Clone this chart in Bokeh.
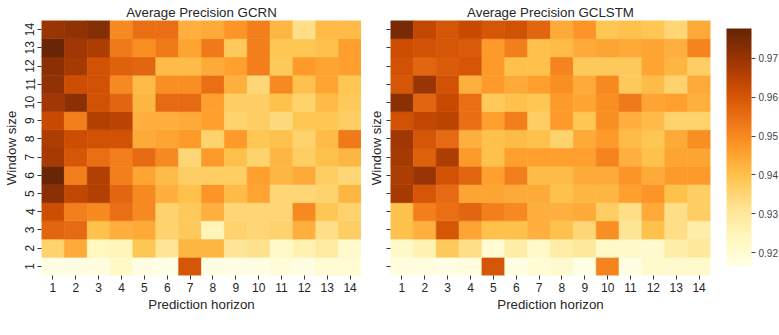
import numpy as np
from bokeh.plotting import figure
from bokeh.layouts import row
from bokeh.models import (ColumnDataSource, LinearColorMapper, ColorBar, FixedTicker,
                          PrintfTickFormatter)
from bokeh.embed import file_html
from bokeh.resources import INLINE

horizons = list(range(1, 15))
windows = list(range(1, 15))
cbar_ticks = [0.92, 0.93, 0.94, 0.95, 0.96, 0.97]

# rows: window size 1..14, columns: prediction horizon 1..14
gcrn_ap = [
    [0.917, 0.917, 0.918, 0.922, 0.917, 0.9165, 0.960, 0.917, 0.917, 0.917, 0.919, 0.917, 0.920, 0.920],
    [0.936, 0.944, 0.924, 0.925, 0.939, 0.931, 0.942, 0.942, 0.931, 0.932, 0.922, 0.926, 0.929, 0.921],
    [0.957, 0.956, 0.940, 0.943, 0.944, 0.936, 0.938, 0.925, 0.936, 0.935, 0.936, 0.943, 0.933, 0.937],
    [0.962, 0.952, 0.950, 0.955, 0.950, 0.936, 0.938, 0.943, 0.935, 0.935, 0.935, 0.950, 0.939, 0.936],
    [0.972, 0.964, 0.966, 0.957, 0.950, 0.943, 0.940, 0.948, 0.941, 0.945, 0.935, 0.935, 0.936, 0.942],
    [0.977, 0.952, 0.966, 0.952, 0.945, 0.941, 0.937, 0.937, 0.937, 0.946, 0.942, 0.944, 0.937, 0.935],
    [0.968, 0.960, 0.955, 0.952, 0.956, 0.950, 0.935, 0.947, 0.940, 0.936, 0.942, 0.937, 0.940, 0.942],
    [0.967, 0.962, 0.961, 0.961, 0.944, 0.945, 0.947, 0.936, 0.947, 0.939, 0.940, 0.936, 0.941, 0.953],
    [0.963, 0.952, 0.966, 0.965, 0.943, 0.943, 0.944, 0.946, 0.936, 0.937, 0.934, 0.939, 0.939, 0.937],
    [0.969, 0.972, 0.961, 0.957, 0.942, 0.956, 0.956, 0.946, 0.937, 0.937, 0.940, 0.936, 0.941, 0.938],
    [0.971, 0.962, 0.961, 0.950, 0.941, 0.949, 0.949, 0.955, 0.943, 0.935, 0.950, 0.940, 0.945, 0.939],
    [0.972, 0.968, 0.961, 0.958, 0.957, 0.941, 0.941, 0.944, 0.946, 0.952, 0.938, 0.947, 0.945, 0.946],
    [0.977, 0.969, 0.967, 0.953, 0.949, 0.953, 0.945, 0.953, 0.938, 0.952, 0.939, 0.939, 0.940, 0.946],
    [0.970, 0.971, 0.973, 0.950, 0.955, 0.955, 0.943, 0.944, 0.948, 0.952, 0.942, 0.933, 0.941, 0.941],
]

gclstm_ap = [
    [0.918, 0.918, 0.917, 0.918, 0.960, 0.917, 0.920, 0.921, 0.9165, 0.951, 0.917, 0.921, 0.921, 0.921],
    [0.922, 0.926, 0.938, 0.933, 0.920, 0.928, 0.922, 0.928, 0.930, 0.922, 0.922, 0.921, 0.928, 0.930],
    [0.940, 0.943, 0.960, 0.945, 0.940, 0.940, 0.943, 0.940, 0.935, 0.949, 0.931, 0.940, 0.933, 0.928],
    [0.940, 0.952, 0.955, 0.957, 0.952, 0.950, 0.943, 0.943, 0.944, 0.937, 0.933, 0.944, 0.933, 0.937],
    [0.968, 0.960, 0.956, 0.945, 0.945, 0.944, 0.944, 0.940, 0.942, 0.942, 0.946, 0.948, 0.940, 0.937],
    [0.967, 0.970, 0.961, 0.957, 0.946, 0.952, 0.941, 0.941, 0.944, 0.944, 0.948, 0.944, 0.947, 0.947],
    [0.968, 0.958, 0.967, 0.947, 0.940, 0.946, 0.946, 0.946, 0.946, 0.951, 0.943, 0.940, 0.945, 0.945],
    [0.969, 0.960, 0.956, 0.943, 0.940, 0.941, 0.940, 0.936, 0.944, 0.947, 0.941, 0.939, 0.944, 0.949],
    [0.961, 0.964, 0.965, 0.955, 0.946, 0.952, 0.937, 0.947, 0.939, 0.949, 0.943, 0.941, 0.936, 0.936],
    [0.972, 0.957, 0.963, 0.955, 0.938, 0.940, 0.939, 0.947, 0.945, 0.949, 0.953, 0.945, 0.946, 0.943],
    [0.960, 0.970, 0.961, 0.943, 0.947, 0.944, 0.946, 0.949, 0.944, 0.950, 0.938, 0.941, 0.936, 0.944],
    [0.961, 0.957, 0.959, 0.960, 0.947, 0.940, 0.940, 0.951, 0.938, 0.938, 0.938, 0.945, 0.942, 0.937],
    [0.962, 0.961, 0.960, 0.959, 0.947, 0.952, 0.940, 0.941, 0.944, 0.945, 0.944, 0.945, 0.943, 0.951],
    [0.975, 0.964, 0.960, 0.963, 0.960, 0.961, 0.957, 0.944, 0.948, 0.939, 0.940, 0.939, 0.935, 0.944],
]

VMIN, VMAX = 0.9164, 0.9777

# YlOrBr continuous palette (light -> dark)
anchors = ['#ffffe5', '#fff7bc', '#fee391', '#fec44f', '#fe9929',
           '#ec7014', '#cc4c02', '#993404', '#662506']
def _rgb(h):
    return [int(h[i:i + 2], 16) for i in (1, 3, 5)]
arr = np.array([_rgb(c) for c in anchors], dtype=float)
pos = np.linspace(0, 1, len(anchors))
tt = np.linspace(0, 1, 256)
palette = ['#%02x%02x%02x' % tuple(int(round(np.interp(t, pos, arr[:, k]))) for k in range(3)) for t in tt]

mapper = LinearColorMapper(palette=palette, low=VMIN, high=VMAX)

FONT = "Liberation Sans"
TXT = "#262626"


def make_fig(title, data, show_labels, left_border):
    xs, ys, vs = [], [], []
    for wi, w in enumerate(windows):
        for hi, h in enumerate(horizons):
            xs.append(h)
            ys.append(w)
            vs.append(data[wi][hi])
    src = ColumnDataSource(dict(x=xs, y=ys, v=vs))
    p = figure(title=title, x_range=(0.5, 14.5), y_range=(0.5, 14.5),
               frame_width=320, frame_height=255, output_backend="svg",
               toolbar_location=None, min_border_left=left_border,
               min_border_right=0, min_border_top=20, min_border_bottom=60)
    p.rect(x='x', y='y', width=1, height=1, source=src,
           fill_color={'field': 'v', 'transform': mapper},
           line_color={'field': 'v', 'transform': mapper}, line_width=0.6)
    p.title.align = "center"
    p.title.text_font = FONT
    p.title.text_font_size = "13.3px"
    p.title.text_font_style = "normal"
    p.title.text_color = TXT
    p.title.offset = 0
    p.title.standoff = 2
    p.outline_line_color = None
    p.grid.visible = False
    p.background_fill_color = "white"
    p.border_fill_color = "white"
    for ax in (p.xaxis[0], p.yaxis[0]):
        ax.ticker = FixedTicker(ticks=horizons)
        ax.axis_line_color = None
        ax.major_tick_out = 4
        ax.major_tick_in = 0
        ax.minor_tick_line_color = None
        ax.major_tick_line_color = "#333333"
        ax.major_label_text_font = FONT
        ax.major_label_text_font_size = "12px"
        ax.major_label_text_color = TXT
        ax.axis_label_text_font = FONT
        ax.axis_label_text_font_size = "13.3px"
        ax.axis_label_text_font_style = "normal"
        ax.axis_label_text_color = TXT
    p.xaxis.axis_label = "Prediction horizon"
    p.xaxis.major_label_standoff = 3
    p.xaxis.axis_label_standoff = 2
    p.yaxis.axis_label = "Window size"
    p.yaxis.major_label_orientation = "vertical"
    if show_labels:
        p.yaxis.major_label_standoff = 3
        p.yaxis.axis_label_standoff = 4
    else:
        p.yaxis.major_label_overrides = {w: "" for w in windows}
        p.yaxis.major_label_standoff = 0
        p.yaxis.axis_label_standoff = 3
    return p


p1 = make_fig("Average Precision GCRN", gcrn_ap, True, 39)
p2 = make_fig("Average Precision GCLSTM", gclstm_ap, False, 29)

cb = ColorBar(color_mapper=mapper, width=25, height=238, padding=0, margin=0,
              ticker=FixedTicker(ticks=cbar_ticks),
              formatter=PrintfTickFormatter(format="%.2f"),
              major_label_text_font=FONT, major_label_text_font_size="10px",
              major_label_text_color="#444444", major_tick_out=4, major_tick_in=0,
              major_tick_line_color="#444444", bar_line_color=None,
              border_line_color=None, location=(16, 9), label_standoff=3,
              background_fill_color=None)
p2.add_layout(cb, "right")
p2.min_border_right = 70

layout = row(p1, p2, spacing=0)
open("out.html", "w").write(file_html(layout, INLINE))
